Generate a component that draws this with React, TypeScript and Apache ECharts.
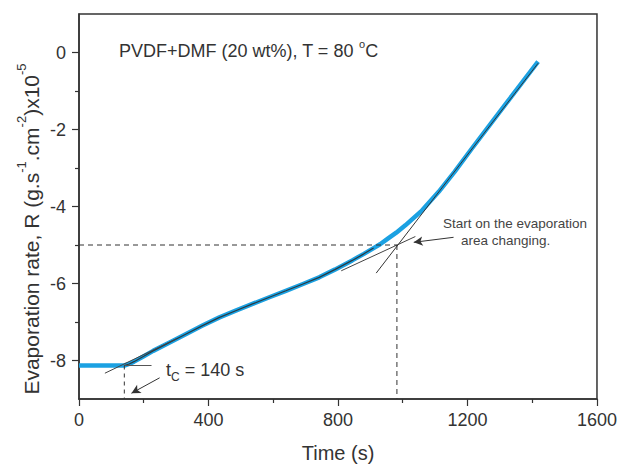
import React, { useEffect, useRef } from "react";
import * as echarts from "echarts";

// ---- data ----
const timeS = [0, 60, 140, 155, 170, 200, 229, 280, 331, 380, 434, 486, 536, 590, 639, 690, 742, 790, 844, 880, 910, 930, 955, 980, 1008, 1060, 1111, 1160, 1213, 1316, 1418];
const rate = [-8.13, -8.13, -8.13, -8.09, -8.03, -7.89, -7.75, -7.53, -7.31, -7.1, -6.88, -6.7, -6.53, -6.35, -6.19, -6.02, -5.84, -5.64, -5.4, -5.23, -5.08, -4.98, -4.83, -4.68, -4.49, -4.1, -3.62, -3.1, -2.5, -1.36, -0.24];

// tangent / construction lines
const flatTangent = [[140, -8.13], [224, -8.13]];
const initTangent = [[80, -8.33], [300, -7.44]];
const shallowTangent = [[810, -5.67], [1039, -4.78]];
const steepTangent = [[918, -5.73], [1418, -0.28]];
const hDashed = [[0, -5], [982, -5]];
const vDashed = [[982, -5], [982, -9]];
const tcDashed = [[140, -8.13], [140, -9]];
const arrowChange = [[1157, -4.8], [1034, -4.93]];
const arrowTc = [[249, -8.45], [162, -8.85]];

const xTicks = [0, 400, 800, 1200, 1600];
const yMajor = [-8, -6, -4, -2, 0];
const yMinor = [-7, -5, -3, -1];

const FONT = "'Liberation Sans', Arial, Helvetica, sans-serif";
const TXT = "#333";

export default function App() {
  const ref = useRef<HTMLDivElement>(null);
  useEffect(() => {
    if (!ref.current) return;
    const chart = echarts.init(ref.current, null, { renderer: "svg" });
    const curve = timeS.map((t, i) => [t, rate[i]]);
    const overlay = curve.filter((p) => p[0] >= 140 && p[0] <= 910);
    const thin = (data: number[][], color = "#3a3a3a", type: any = "solid", w = 1) => ({
      type: "line",
      data,
      symbol: "none",
      silent: true,
      z: 4,
      lineStyle: { color, width: w, type },
    });
    chart.setOption({
      animation: false,
      backgroundColor: "#fff",
      textStyle: { fontFamily: FONT },
      grid: {
        left: 79,
        top: 14,
        width: 520,
        height: 385,
        show: true,
        borderColor: "#333",
        borderWidth: 1.5,
        backgroundColor: "transparent",
      },
      xAxis: {
        type: "value",
        min: 0,
        max: 1600,
        interval: 400,
        axisLine: { show: true, onZero: false, lineStyle: { color: "#333", width: 1.5 } },
        axisTick: { show: true, length: 7, lineStyle: { color: "#333", width: 1.2 } },
        minorTick: { show: true, splitNumber: 2, length: 4, lineStyle: { color: "#333", width: 1.2 } },
        splitLine: { show: false },
        axisLabel: {
          fontSize: 18,
          color: TXT,
          margin: 12,
          fontFamily: FONT,
          formatter: (v: number) => (xTicks.includes(v) ? String(v) : ""),
        },
      },
      yAxis: [
        {
          type: "value",
          min: -9,
          max: 1,
          interval: 1,
          axisLine: { show: true, onZero: false, lineStyle: { color: "#333", width: 1.5 } },
          axisTick: { show: true, length: 7, customValues: yMajor, lineStyle: { color: "#333", width: 1.2 } },
          splitLine: { show: false },
          axisLabel: { fontSize: 18, color: TXT, margin: 13, fontFamily: FONT, customValues: yMajor },
        },
        {
          type: "value",
          min: -9,
          max: 1,
          interval: 1,
          position: "left",
          axisLine: { show: false, onZero: false },
          axisTick: { show: true, length: 4, customValues: yMinor, lineStyle: { color: "#333", width: 1.2 } },
          splitLine: { show: false },
          axisLabel: { show: false },
        },
      ],
      series: [
        {
          type: "line",
          name: "R",
          data: curve,
          symbol: "none",
          smooth: false,
          silent: true,
          z: 2,
          lineStyle: { color: "#1ba1e2", width: 4.5, join: "round" },
        },
        thin(overlay, "#2b3940", "solid", 1.2),
        thin(flatTangent, "#555"),
        thin(initTangent, "#444"),
        thin(shallowTangent, "#444"),
        thin(steepTangent, "#333"),
        thin(hDashed, "#333", [5, 4]),
        thin(vDashed, "#333", [5, 4]),
        thin(tcDashed, "#333", [4, 4]),
        {
          type: "line",
          data: [],
          symbol: "none",
          silent: true,
          markLine: {
            silent: true,
            symbol: ["none", "arrow"],
            symbolSize: [7, 9],
            label: { show: false },
            lineStyle: { color: "#333", width: 1, type: "solid" },
            data: [
              [{ coord: arrowChange[0] }, { coord: arrowChange[1] }],
              [{ coord: arrowTc[0] }, { coord: arrowTc[1] }],
            ],
          },
        },
      ],
      graphic: [
        {
          type: "text",
          x: 119,
          y: 49,
          z: 100,
          style: {
            text: "{m|PVDF+DMF (20 wt%), T = 80 }{s|o}{m|C}",
            align: "left",
            verticalAlign: "middle",
            rich: {
              m: { fontSize: 18, fontFamily: FONT, fill: TXT, verticalAlign: "bottom", lineHeight: 22 },
              s: { fontSize: 11, fontFamily: FONT, fill: TXT, verticalAlign: "top" },
            },
          },
        },
        {
          type: "text",
          x: 166,
          y: 372,
          z: 100,
          style: {
            text: "{m|t}{s|C}{m| = 140 s}",
            align: "left",
            verticalAlign: "middle",
            rich: {
              m: { fontSize: 18, fontFamily: FONT, fill: TXT, verticalAlign: "top", lineHeight: 22 },
              s: { fontSize: 12, fontFamily: FONT, fill: TXT, verticalAlign: "bottom" },
            },
          },
        },
        {
          type: "text",
          x: 443,
          y: 223,
          z: 100,
          style: {
            text: "Start on the evaporation",
            fontSize: 13.5,
            fontFamily: FONT,
            fill: "#444",
            align: "left",
            verticalAlign: "middle",
          },
        },
        {
          type: "text",
          x: 461,
          y: 240,
          z: 100,
          style: {
            text: "area changing.",
            fontSize: 13.5,
            fontFamily: FONT,
            fill: "#444",
            align: "left",
            verticalAlign: "middle",
          },
        },
        {
          type: "text",
          x: 338,
          y: 453,
          z: 100,
          style: {
            text: "Time (s)",
            fontSize: 20,
            fontFamily: FONT,
            fill: TXT,
            align: "center",
            verticalAlign: "middle",
          },
        },
        {
          type: "text",
          x: 28,
          y: 229,
          rotation: Math.PI / 2,
          z: 100,
          style: {
            text: "{m|Evaporation rate, R (g.s}{s|-1}{m|.cm}{s|-2}{m|)x10}{s|-5}",
            align: "center",
            verticalAlign: "middle",
            rich: {
              m: { fontSize: 21, fontFamily: FONT, fill: TXT, verticalAlign: "bottom", lineHeight: 27 },
              s: { fontSize: 13, fontFamily: FONT, fill: TXT, verticalAlign: "top" },
            },
          },
        },
      ],
    });
    return () => chart.dispose();
  }, []);
  return (
    <div
      ref={ref}
      style={{ position: "fixed", left: 0, top: 0, width: 620, height: 465, background: "#fff" }}
    />
  );
}
